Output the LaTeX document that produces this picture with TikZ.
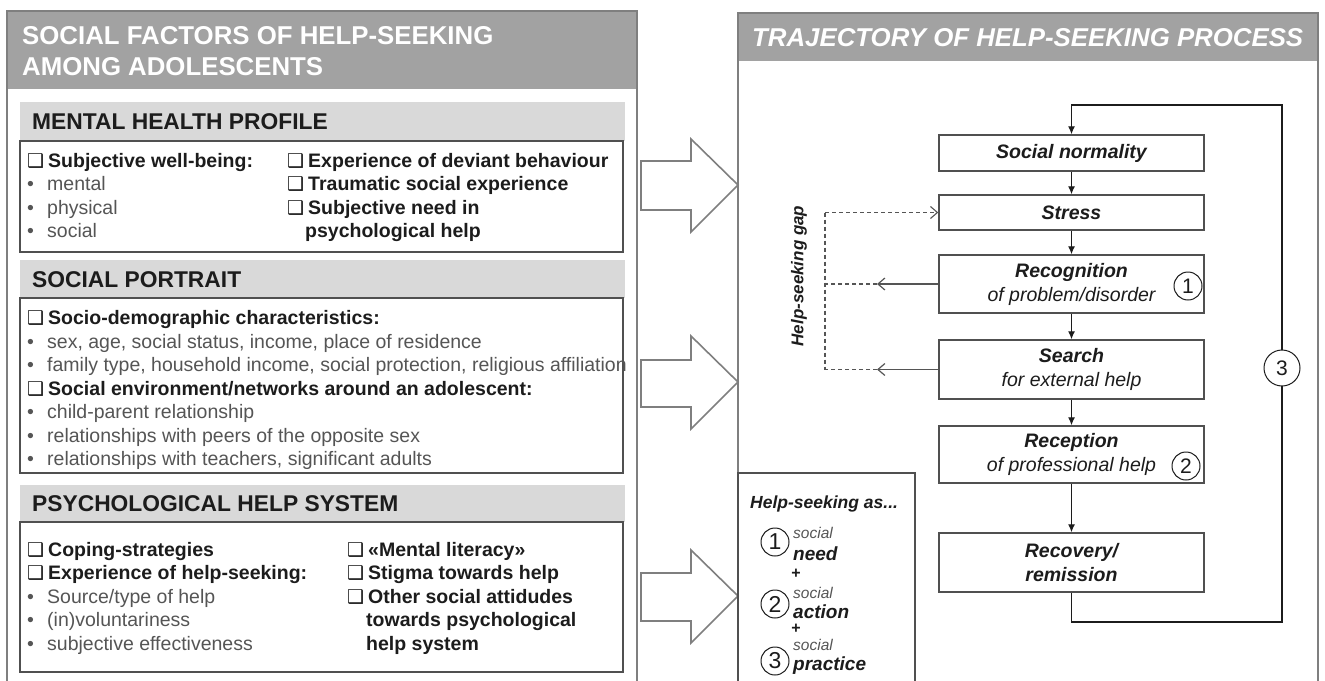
\documentclass[tikz,border=0pt]{standalone}
\usepackage{fontspec}
\setmainfont{Liberation Sans}
\newfontfamily\dvfont{DejaVu Sans}
\usetikzlibrary{arrows.meta}
\definecolor{hdark}{HTML}{A2A2A2}
\definecolor{hlight}{HTML}{D9D9D9}
\definecolor{framegray}{HTML}{7F7F7F}
\definecolor{boxgray}{HTML}{505050}
\definecolor{ink}{HTML}{1C1C1C}
\definecolor{soft}{HTML}{555555}
\newcommand\fs[1]{\fontsize{#1}{#1}\selectfont}
\newcommand\chk{{\dvfont\fs{19}❑}\hspace{4pt}}
\newcommand\blt{\makebox[20pt][l]{•}}

\begin{document}
\begin{tikzpicture}[x=1pt,y=-1pt,
  every node/.style={inner sep=0pt},
  paneltitle/.style={font=\fs{25.8}\bfseries, text=white, anchor=base west},
  secthead/.style={font=\fs{22.8}\bfseries, text=ink, anchor=base west},
  itemtxt/.style={font=\fs{19.5}\bfseries, text=ink, anchor=base west},
  subtxt/.style={font=\fs{19.5}, text=soft, anchor=base west},
  panel/.style={draw=framegray, line width=2pt},
  secbox/.style={draw=boxgray, line width=1.6pt},
  bigarrow/.style={draw=framegray, line width=1.6pt, fill=white, line join=miter},
  stepbox/.style={draw=boxgray, line width=1.4pt, minimum width=265pt, align=center,
    font=\fontsize{19.5}{24}\selectfont, text=ink},
  num/.style={circle, draw=ink, line width=1pt, fill=white, font=\fs{21}, text=ink},
  flowarrow/.style={draw=ink, line width=1.2pt, -{Latex[length=8pt,width=7pt]}},
  gapdash/.style={draw=soft, line width=1.1pt, dash pattern=on 4pt off 3pt},
  gapsolid/.style={draw=soft, line width=1.2pt},
  openhead/.style={-{Straight Barb[length=7pt,width=12pt]}},
  legsmall/.style={font=\fs{15.5}\itshape, text=soft, anchor=base west},
  legbold/.style={font=\fs{19}\bfseries\itshape, text=ink, anchor=base west},
  legplus/.style={font=\fs{16}\bfseries, text=ink},
]
\clip (0,0) rectangle (1325,680);
\fill[white] (0,0) rectangle (1325,680);

% ---------- left panel: social factors ----------
\fill[hdark] (7,11) rectangle (637,89);
\draw[panel] (7,11) rectangle (637,700);
\node[paneltitle] (lt1) at (22,44) {SOCIAL FACTORS OF HELP-SEEKING};
\node[paneltitle] (lt2) at (22,75) {AMONG ADOLESCENTS};

% mental health profile
\fill[hlight] (20,102) rectangle (625,141);
\draw[secbox] (20,141) rectangle (623,252);
\node[secthead] (mh) at (32,129.5) {MENTAL HEALTH PROFILE};
\node[itemtxt] (mh1) at (27,167) {\chk Subjective well-being:};
\node[subtxt] (mh2) at (27,190.5) {\blt mental};
\node[subtxt] (mh3) at (27,214) {\blt physical};
\node[subtxt] (mh4) at (27,237.5) {\blt social};
\node[itemtxt] (mh5) at (287,167) {\chk Experience of deviant behaviour};
\node[itemtxt] (mh6) at (287,190.5) {\chk Traumatic social experience};
\node[itemtxt] (mh7) at (287,214) {\chk Subjective need in};
\node[itemtxt] (mh8) at (305,237.5) {psychological help};

% social portrait
\fill[hlight] (20,260) rectangle (625,298);
\draw[secbox] (20,298) rectangle (623,473);
\node[secthead] (sp) at (32,287) {SOCIAL PORTRAIT};
\node[itemtxt] (sp1) at (27,324.5) {\chk Socio-demographic characteristics:};
\node[subtxt] (sp2) at (27,348) {\blt sex, age, social status, income, place of residence};
\node[subtxt] (sp3) at (27,371.5) {\blt family type, household income, social protection, religious affiliation};
\node[itemtxt] (sp4) at (27,395) {\chk Social environment/networks around an adolescent:};
\node[subtxt] (sp5) at (27,418.5) {\blt child-parent relationship};
\node[subtxt] (sp6) at (27,442) {\blt relationships with peers of the opposite sex};
\node[subtxt] (sp7) at (27,465.5) {\blt relationships with teachers, significant adults};

% psychological help system
\fill[hlight] (20,485) rectangle (625,522);
\draw[secbox] (20,522) rectangle (623,672);
\node[secthead] (ph) at (32,511.5) {PSYCHOLOGICAL HELP SYSTEM};
\node[itemtxt] (ph1) at (27,556) {\chk Coping-strategies};
\node[itemtxt] (ph2) at (27,579.5) {\chk Experience of help-seeking:};
\node[subtxt] (ph3) at (27,603) {\blt Source/type of help};
\node[subtxt] (ph4) at (27,626.5) {\blt (in)voluntariness};
\node[subtxt] (ph5) at (27,650) {\blt subjective effectiveness};
\node[itemtxt] (ph6) at (347,556) {\chk «Mental literacy»};
\node[itemtxt] (ph7) at (347,579.5) {\chk Stigma towards help};
\node[itemtxt] (ph8) at (347,603) {\chk Other social attidudes};
\node[itemtxt] (ph9) at (366,626.5) {towards psychological};
\node[itemtxt] (ph10) at (366,650) {help system};

% ---------- hollow arrows between the panels ----------
\draw[bigarrow] (641,161) -- (691,161) -- (691,139) -- (738,185) -- (691,232) -- (691,210) -- (641,210) -- cycle;
\draw[bigarrow] (641,360) -- (691,360) -- (691,336) -- (738,382) -- (691,429) -- (691,407) -- (641,407) -- cycle;
\draw[bigarrow] (641,573) -- (691,573) -- (691,550) -- (738,596) -- (691,643) -- (691,621) -- (641,621) -- cycle;

% ---------- right panel: trajectory ----------
\fill[hdark] (738,13) rectangle (1318,61);
\draw[panel] (738,13) rectangle (1318,700);
\node[paneltitle, font=\fs{25.8}\bfseries\itshape] (rt) at (752,46) {TRAJECTORY OF HELP-SEEKING PROCESS};

% process steps
\node[stepbox, minimum height=36pt] (sn) at (1071.5,153) {\bfseries\itshape Social normality};
\node[stepbox, minimum height=35pt] (st) at (1071.5,212.5) {\bfseries\itshape Stress};
\node[stepbox, minimum height=58pt] (rc) at (1071.5,284) {\bfseries\itshape Recognition\\ \itshape of problem/disorder};
\node[stepbox, minimum height=59pt] (se) at (1071.5,369.5) {\bfseries\itshape Search\\ \itshape for external help};
\node[stepbox, minimum height=57pt] (re) at (1071.5,454.5) {\bfseries\itshape Reception\\ \itshape of professional help};
\node[stepbox, minimum height=59pt] (rv) at (1071.5,562.5) {\bfseries\itshape Recovery/\\ \bfseries\itshape remission};

\draw[flowarrow] (sn) -- (st);
\draw[flowarrow] (st) -- (rc);
\draw[flowarrow] (rc) -- (se);
\draw[flowarrow] (se) -- (re);
\draw[flowarrow] (re) -- (rv);

% return loop
\coordinate (loopbr) at (1282,622);
\coordinate (looptr) at (1282,105);
\draw[flowarrow] (rv.south) |- (loopbr) -- (looptr) -| (sn.north);
\node[num, minimum size=36pt] (c3) at (1282,368) {3};
\node[num, minimum size=28pt] (c1) at (1188,286) {1};
\node[num, minimum size=28pt] (c2) at (1186,466) {2};

% help-seeking gap
\coordinate (gtop) at (825,212.5);
\coordinate (gm1) at (825,284);
\coordinate (gm2) at (825,369.5);
\coordinate (ga1) at (877,284);
\coordinate (ga2) at (877,369.5);
\draw[gapdash, openhead] (gtop) -- (st.west);
\draw[gapsolid, openhead] (rc.west) -- (ga1);
\draw[gapsolid, openhead] (se.west) -- (ga2);
\draw[gapdash] (ga1) -- (gm1);
\draw[gapdash] (ga2) -- (gm2);
\draw[gapdash] (gtop) -- (gm2);
\node[rotate=90, font=\fs{17}\bfseries\itshape, text=ink] (gap) at (799,276) {Help-seeking gap};

% legend
\draw[secbox] (738,473) rectangle (915,700);
\node[font=\fs{17.5}\bfseries\itshape, text=ink, anchor=base west] (lg) at (750,508) {Help-seeking as...};
\node[num, minimum size=28pt, font=\fs{23}] (l1) at (775,542) {1};
\node[legsmall] (l1a) at (793,538) {social};
\node[legbold] (l1b) at (793,560) {need};
\node[legplus] (p1) at (796,573.5) {+};
\node[num, minimum size=28pt, font=\fs{23}] (l2) at (775,604) {2};
\node[legsmall] (l2a) at (793,598) {social};
\node[legbold] (l2b) at (793,618) {action};
\node[legplus] (p2) at (796,628.5) {+};
\node[num, minimum size=28pt, font=\fs{23}] (l3) at (775,661) {3};
\node[legsmall] (l3a) at (793,650) {social};
\node[legbold] (l3b) at (793,670) {practice};
\end{tikzpicture}
\end{document}
